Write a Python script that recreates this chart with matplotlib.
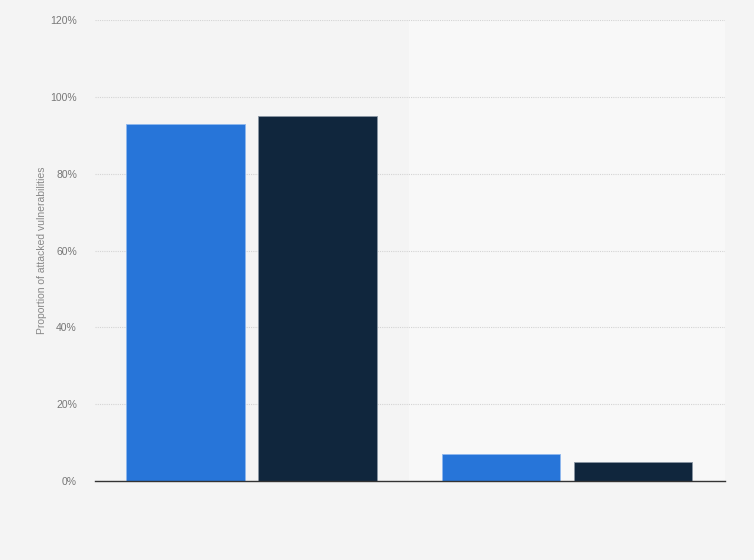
import matplotlib
matplotlib.use("Agg")
import matplotlib.pyplot as plt
import numpy as np
from matplotlib.ticker import FuncFormatter

plt.rcParams["font.family"] = ["Liberation Sans", "DejaVu Sans"]

categories = ["Group A", "Group B"]
series1 = [93, 7]
series2 = [95, 5]
yticks = [0, 20, 40, 60, 80, 100, 120]

fig = plt.figure(figsize=(7.54, 5.6), dpi=100, facecolor="#f4f4f4")
ax = fig.add_axes([0.126, 0.141, 0.8355, 0.823])
ax.set_facecolor("#f4f4f4")

x = np.arange(len(categories))
w = 0.375
off = 0.209
ax.axvspan(0.5, 1.5, color="#f8f8f8", zorder=0, lw=0)
ax.bar(x - off, series1, width=w, color="#2775d9", edgecolor="#8fb8ee", linewidth=0.6, zorder=3)
ax.bar(x + off, series2, width=w, color="#10263d", edgecolor="#8a96a3", linewidth=0.6, zorder=3)

ax.set_xlim(-0.495, 1.5)
ax.set_ylim(0, 120)
ax.set_yticks(yticks)
ax.yaxis.set_major_formatter(FuncFormatter(lambda v, p: f"{int(v)}%"))
ax.grid(axis="y", color="#d4d4d4", linestyle=(0, (1, 1)), linewidth=0.8, zorder=1)
ax.set_xticks([])
for s in ["top", "right", "left"]:
    ax.spines[s].set_visible(False)
ax.spines["bottom"].set_color("#333333")
ax.spines["bottom"].set_linewidth(1.0)
ax.spines["bottom"].set_zorder(4)
ax.tick_params(axis="y", length=0, labelsize=7.5, labelcolor="#777777", pad=13)
ax.set_ylabel("Proportion of attacked vulnerabilities", fontsize=7.5, color="#888888", labelpad=0)
ax.yaxis.set_label_coords(-48 / 630, 0.5)

fig.savefig("out.png", dpi=100, facecolor=fig.get_facecolor())
